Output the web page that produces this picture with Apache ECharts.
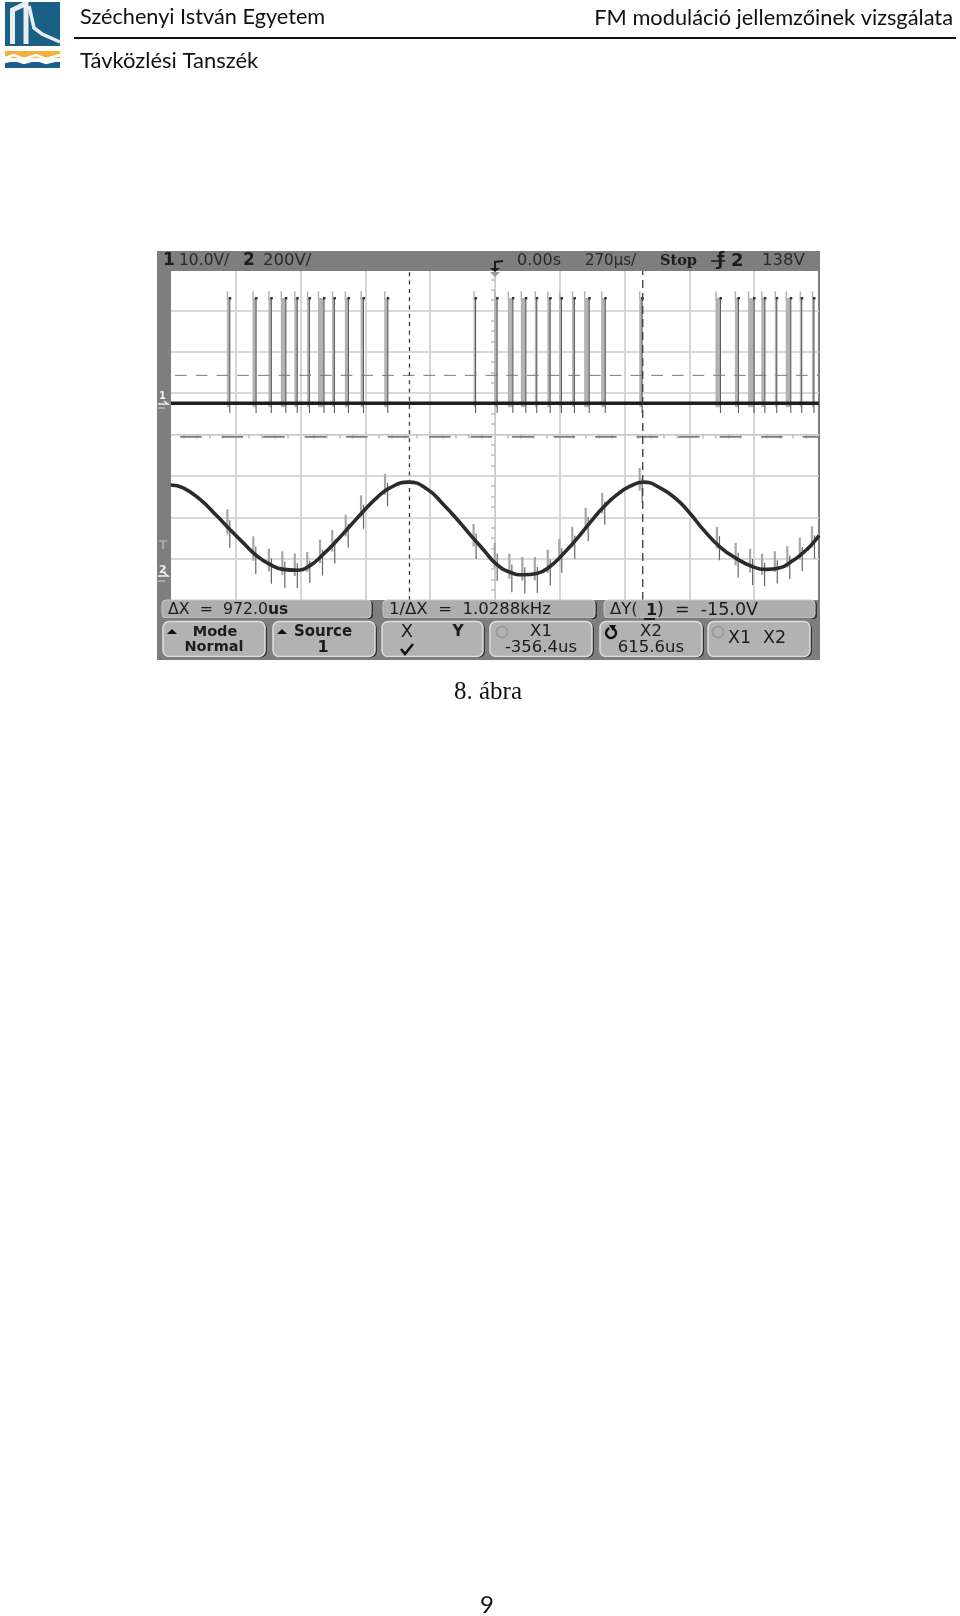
<!DOCTYPE html>
<html><head><meta charset="utf-8">
<style>html,body{margin:0;padding:0;background:#fff}#c{width:960px;height:1616px}</style>
<script src="https://cdn.jsdelivr.net/npm/echarts@6/dist/echarts.min.js"></script>
</head><body><div id="c"></div>
<script>
// time in microseconds (270 us/div), amplitude in screen divisions from centre
const pulseTimes=[-1111,-1003,-938,-882,-830,-778,-725,-674,-618,-554,-454,-85,3,64,118,170,224,272,326,382,451,607,929,1007,1067,1117,1170,1222,1274,1325];
const pulseWidths=[12,15,12,21,12,10,25,10,15,12,15,8,12,21,21,8,12,10,10,21,17,12,21,15,25,15,8,21,8,8];
const glitchTop=[-1.81,-2.46,-2.76,-2.82,-2.88,-2.84,-2.54,-2.31,-1.94,-1.47,-0.95,-2.16,-2.62,-2.88,-2.96,-2.96,-2.78,-2.52,-2.23,-1.77,-1.41,-0.81,-2.23,-2.62,-2.76,-2.88,-2.82,-2.70,-2.49,-2.22];
const glitchBottom=[-2.74,-3.37,-3.61,-3.71,-3.71,-3.59,-3.41,-3.12,-2.74,-2.28,-1.73,-3.00,-3.54,-3.81,-3.84,-3.83,-3.65,-3.34,-3.00,-2.58,-2.18,-1.65,-3.04,-3.46,-3.64,-3.67,-3.60,-3.49,-3.30,-3.00];
const ch2Times=[-1351,-1299,-1229,-1160,-1104,-1049,-993,-938,-882,-826,-771,-715,-660,-604,-549,-493,-438,-361,-285,-215,-146,-104,-70,-49,7,63,118,174,229,285,340,396,451,507,563,618,688,757,813,868,938,1007,1076,1132,1188,1243,1271,1299,1326,1350];
const ch2Values=[-1.22,-1.29,-1.57,-1.96,-2.30,-2.62,-2.93,-3.14,-3.26,-3.28,-3.17,-2.89,-2.57,-2.21,-1.86,-1.53,-1.29,-1.15,-1.31,-1.69,-2.13,-2.42,-2.64,-2.78,-3.14,-3.33,-3.39,-3.36,-3.19,-2.88,-2.53,-2.13,-1.76,-1.46,-1.25,-1.15,-1.29,-1.57,-1.91,-2.30,-2.72,-3.00,-3.20,-3.26,-3.22,-3.04,-2.92,-2.78,-2.62,-2.44];
const ch1Baseline=0.757, ch1High=3.46, ch1Tip=3.30, ch1Low=0.52;
const triggerLevel=1.43, refLevel=-0.057;
const cursorX1=-356.4, cursorX2=615.6;
const timeRange=[-1350,1350], ampRange=[-4,4];

const T=(text,x,y,size,o={})=>({type:'text',silent:true,z:o.z||120,style:{text,x,y,fontFamily:o.font||'DejaVu Sans',fontSize:size,fontWeight:o.bold?'bold':'normal',fill:o.fill||'#1c1c1c',textAlign:o.align||'left',textVerticalAlign:o.va||'middle'}});
const R=(x,y,w,h,fill,o={})=>({type:'rect',silent:true,z:o.z||110,shape:{x,y,width:w,height:h,r:o.r||0},style:{fill,stroke:o.stroke||null,lineWidth:o.lw||0}});
const L=(pts,stroke,lw,o={})=>({type:'polyline',silent:true,z:o.z||120,shape:{points:pts},style:{stroke,lineWidth:lw,fill:null}});
const PG=(pts,fill,o={})=>({type:'polygon',silent:true,z:o.z||120,shape:{points:pts},style:{fill}});
const softkey=(x,w)=>[R(x+1,622.5,w+1,35,'#333',{r:6}),R(x,621.5,w,35,'#b2b2b2',{r:6,stroke:'#dedede',lw:1.5})];
const status=(x,w)=>[R(x+1,601,w+1,18,'#333',{r:4}),R(x,600,w,18,'#aeaeae',{r:4,stroke:'#c8c8c8',lw:1})];

const els=[
 // page header
 T('Széchenyi István Egyetem',80,6.5,21.7,{font:'Lato',va:'top',fill:'#111'}),
 T('FM moduláció jellemzőinek vizsgálata',953,6.5,21.8,{font:'Lato',align:'right',va:'top',fill:'#111'}),
 T('Távközlési Tanszék',80,49.5,22,{font:'Lato',va:'top',fill:'#111'}),
 L([[74,38],[956,38]],'#111',2),
 // logo
 R(5,2,55,44,'#1a5f86'),
 L([[12.5,44],[12.5,10],[27,3]],'#e8eef2',5),
 L([[26,2],[26,44]],'#e8eef2',5),
 L([[29,6],[34,28],[42,34],[60,42]],'#e8eef2',3.5),
 R(5,51,55,7,'#f0b23c'),
 L([[5,58],[14,55],[24,59],[36,55],[46,59],[60,55]],'#fff',2.5),
 R(5,62,55,6,'#1a5f86'),
 L([[5,62],[14,59.5],[24,63],[36,59.5],[46,63],[60,59.5]],'#fff',2.5),
 // scope frame
 R(157,251,663,409,'#7e7e7e',{z:-5}),
 R(171,271,647,329,'#ffffff',{z:-4}),
 R(157,251,663,20,'#7e7e7e',{z:105}),
 R(157,600,663,60,'#7e7e7e',{z:105}),
 // top status line
 T('1',163,261,17,{bold:true}),T('10.0V/',179,261,15.5,{fill:'#2a2a2a'}),
 T('2',243,261,17,{bold:true}),T('200V/',263,261,16.5,{fill:'#2a2a2a'}),
 T('0.00s',517,261,16,{fill:'#2a2a2a'}),T('270µs/',585,261,15,{fill:'#2a2a2a'}),
 T('Stop',660,261,14.5,{bold:true,font:'DejaVu Serif'}),
 T('ƒ',717,261,17,{bold:true}),L([[711,261],[725,261]],'#1c1c1c',1.5),
 T('2',731,261,18,{bold:true}),T('138V',762,261,16.5,{fill:'#2a2a2a'}),
 L([[503,261],[495,262],[495,269]],'#1c1c1c',2),
 PG([[490,268],[500,268],[495,272]],'#1c1c1c'),
 PG([[490,272],[500,272],[495,277]],'#9a9a9a'),
 // side markers
 T('1',159,396,10,{fill:'#f2f2f2',bold:true}),L([[158,404],[168,404],[164,401]],'#f2f2f2',1.5),L([[158,408],[165,408]],'#d8d8d8',1),
 T('T',159,546,12,{fill:'#a8a8a8',bold:true}),
 T('2',159,570,11,{fill:'#f2f2f2',bold:true}),L([[158,576],[168,576],[164,573]],'#f2f2f2',1.5),L([[158,581],[165,581]],'#d8d8d8',1),
 // status boxes
 ...status(162,209),...status(383,212),...status(604,211),
 T('ΔX  =  972.0',168,610,15.8),T('us',268,610,15.5,{bold:true}),
 T('1/ΔX  =  1.0288kHz',389,610,16.5),
 T('ΔY(',610,610,16.5),T('1',646,611,16,{bold:true}),L([[644,619],[655,619]],'#1c1c1c',2),T(')  =  -15.0V',657,610,17.5),
 // softkeys
 ...softkey(163,102),...softkey(273,102),...softkey(382,101),...softkey(490,102),...softkey(600,102),...softkey(708,102),
 PG([[167,634],[177,634],[172,629]],'#111'),
 T('Mode',215,632,14.5,{bold:true,align:'center'}),T('Normal',214,647,14.5,{bold:true,align:'center'}),
 PG([[277,634],[287,634],[282,629]],'#111'),
 T('Source',323,632,15,{bold:true,align:'center'}),T('1',323,648,16,{bold:true,align:'center'}),
 T('X',407,632,18,{align:'center'}),T('Y',458,632,15.5,{bold:true,align:'center'}),
 L([[401,649],[405,654],[413,644]],'#111',2.4),
 {type:'circle',silent:true,z:120,shape:{cx:502,cy:632,r:5.5},style:{fill:null,stroke:'#9a9a9a',lineWidth:2}},
 T('X1',541,632,16.5,{align:'center'}),T('-356.4us',541,648,16.5,{align:'center'}),
 {type:'arc',silent:true,z:120,shape:{cx:611,cy:633,r:5,startAngle:-1,endAngle:4.4},style:{fill:null,stroke:'#111',lineWidth:2.4}},
 PG([[609,625],[616,625],[613,631]],'#111'),
 T('X2',651,632,16.5,{align:'center'}),T('615.6us',651,648,16.5,{align:'center'}),
 {type:'circle',silent:true,z:120,shape:{cx:718,cy:632,r:5.5},style:{fill:null,stroke:'#9a9a9a',lineWidth:2}},
 T('X1',728,638,17.5),T('X2',763,638,17.5),
 // caption & page number
 T('8. ábra',454,679.5,25,{font:'Liberation Serif',va:'top',fill:'#111'}),
 T('9',487,1593,24,{font:'Lato',align:'center',va:'top',fill:'#111'})
];

const hline=(v,color,w,dash,from)=>({type:'line',silent:true,symbol:'none',animation:false,
 data:[[from===undefined?timeRange[0]:from,v],[timeRange[1],v]],lineStyle:{color,width:w,type:dash||'solid'}});
const vline=(t,color,w,dash)=>({type:'line',silent:true,symbol:'none',animation:false,
 data:[[t,ampRange[0]],[t,ampRange[1]]],lineStyle:{color,width:w,type:dash}});
const seg=(a,b,stroke,lineWidth)=>({type:'line',shape:{x1:a[0],y1:a[1],x2:b[0],y2:b[1]},style:{stroke,lineWidth}});

const option={
 animation:false,
 graphic:{elements:els},
 grid:{left:171,width:648,top:269,height:331,containLabel:false},
 xAxis:{type:'value',min:timeRange[0],max:timeRange[1],interval:270,
  axisLabel:{show:false},axisLine:{show:true,onZero:true,lineStyle:{color:'#c9c9c9',width:1}},
  axisTick:{show:false},minorTick:{show:true,splitNumber:5,length:4,lineStyle:{color:'#bdbdbd',width:1.5}},
  splitLine:{show:true,showMinLine:false,showMaxLine:false,lineStyle:{color:'#d6d6d6',width:2}}},
 yAxis:{type:'value',min:ampRange[0],max:ampRange[1],interval:1,
  axisLabel:{show:false},axisLine:{show:true,onZero:true,lineStyle:{color:'#c9c9c9',width:1}},
  axisTick:{show:false},minorTick:{show:true,splitNumber:4,length:4,lineStyle:{color:'#bdbdbd',width:1.5}},
  splitLine:{show:true,showMinLine:false,showMaxLine:false,lineStyle:{color:'#cdcdcd',width:1.5}}},
 series:[
  hline(triggerLevel,'#777',1,[11.7,9],-1333),
  hline(refLevel,'#7c7c7c',1.6,[21.5,20],-1312),
  {type:'custom',silent:true,animation:false,clip:true,
   data:pulseTimes.map((t,i)=>[t,pulseWidths[i]]),
   encode:{x:0},
   renderItem:(p,api)=>{
    const t=api.value(0),w=api.size([api.value(1),0])[0];
    const top=api.coord([t,ch1High]),tip=api.coord([t,ch1Tip]),base=api.coord([t,ch1Baseline]),low=api.coord([t,ch1Low]);
    const xr=top[0]+w/2;
    return {type:'group',children:[
     {type:'rect',shape:{x:top[0]-w/2,y:tip[1],width:w,height:base[1]-tip[1]+4},style:{fill:'#b2b2b2'}},
     seg([top[0]-w/2+.5,top[1]],[top[0]-w/2+.5,tip[1]+2],'#b4b4b4',1.5),
     seg([xr,tip[1]],[xr,low[1]],'#5e5e5e',1.1),
     {type:'rect',shape:{x:xr-1,y:tip[1]-1,width:2.5,height:2.5},style:{fill:'#333'}}
    ]};
   }},
  hline(ch1Baseline,'#1e1e1e',3.6),
  {type:'custom',silent:true,animation:false,clip:true,
   data:pulseTimes.map((t,i)=>[t,glitchTop[i],glitchBottom[i]]),
   encode:{x:0},
   renderItem:(p,api)=>{
    const t=api.value(0),a=api.coord([t,api.value(1)]),b=api.coord([t,api.value(2)]);
    const h=b[1]-a[1];
    return {type:'group',children:[
     seg([a[0]-1,a[1]],[a[0]-1,a[1]+h*.65],'#a6a6a6',2.2),
     seg([a[0]+1.5,a[1]+h*.28],[a[0]+1.5,b[1]],'#666',1.2)
    ]};
   }},
  {type:'line',silent:true,symbol:'none',animation:false,smooth:0.5,
   data:ch2Times.map((t,i)=>[t,ch2Values[i]]),lineStyle:{color:'#2b2b2b',width:3.6}},
  vline(cursorX1,'#3a3a3a',1.3,[4,4.3]),
  vline(cursorX2,'#3a3a3a',1.3,[8,5])
 ]
};
echarts.init(document.getElementById('c'),null,{renderer:'canvas'}).setOption(option);
</script></body></html>
